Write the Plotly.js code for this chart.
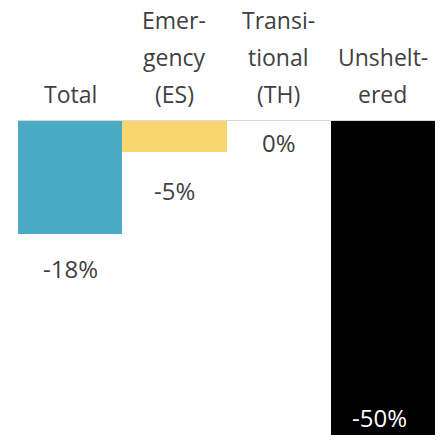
<!DOCTYPE html>
<html>
<head>
<meta charset="utf-8">
<script src="https://cdn.plot.ly/plotly-3.0.1.min.js"></script>
<style>html,body{margin:0;padding:0;background:#fff;}#chart{width:443px;height:444px;}</style>
</head>
<body>
<div id="chart"></div>
<script>
const categories = ["Total", "Emergency (ES)", "Transitional (TH)", "Unsheltered"];
const labelLines = [["Total"], ["Emer-", "gency", "(ES)"], ["Transi-", "tional", "(TH)"], ["Unshelt-", "ered"]];
const values = [-18, -5, 0, -50];
const valueLabels = ["-18%", "-5%", "0%", "-50%"];
const barColors = ["#4BABC6", "#F9D56F", "#FFFFFF", "#000000"];

const FONT = "Open Sans, Liberation Sans, sans-serif";
const TEXT = "#3F3F3F";

const annotations = [];
categories.forEach((c, i) => {
  const lines = labelLines[i];
  lines.forEach((ln, j) => {
    annotations.push({
      xref: "x", yref: "paper", x: c, y: 1, yanchor: "middle", xanchor: "center",
      yshift: 26 + (lines.length - 1 - j) * 37,
      text: ln, showarrow: false, font: {family: FONT, size: 23, color: TEXT}
    });
  });
});
const labelShift = [-35, -38, -22, 17];
const labelColor = [TEXT, TEXT, TEXT, "#FFFFFF"];
const labelDx = [0, 0, 0, -3];
categories.forEach((c, i) => {
  annotations.push({
    xref: "x", yref: "y", x: c, y: values[i], yanchor: "middle", xanchor: "center",
    yshift: labelShift[i], xshift: labelDx[i],
    text: valueLabels[i], showarrow: false, font: {family: FONT, size: 24, color: labelColor[i]}
  });
});

const data = [{
  type: "bar", x: categories, y: values,
  marker: {color: barColors, line: {width: 0}},
  hoverinfo: "none"
}];

const layout = {
  width: 443, height: 444,
  margin: {l: 18, r: 8, t: 120, b: 0, pad: 0},
  paper_bgcolor: "#ffffff", plot_bgcolor: "#ffffff",
  showlegend: false,
  bargap: 0,
  xaxis: {type: "category", showticklabels: false, showgrid: false, zeroline: false, showline: false, ticks: "", range: [-0.5, 3.5]},
  yaxis: {range: [-51.45, 0.15], showticklabels: false, showgrid: false, zeroline: true, zerolinecolor: "#D9D9D9", zerolinewidth: 1, showline: false, ticks: ""},
  annotations: annotations
};

Plotly.newPlot("chart", data, layout, {staticPlot: true, displayModeBar: false});
</script>
</body>
</html>
